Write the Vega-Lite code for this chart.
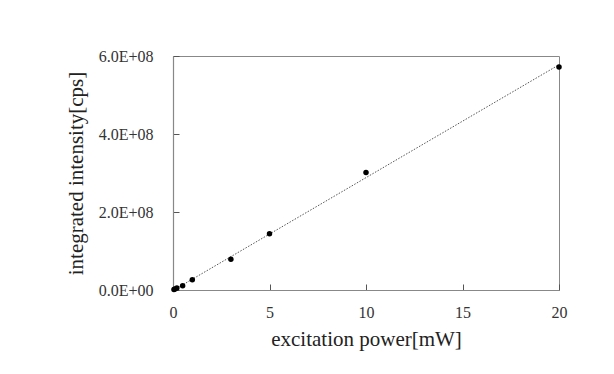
{
  "$schema": "https://vega.github.io/schema/vega-lite/v6.json",
  "width": 386,
  "height": 234,
  "autosize": {"type": "none"},
  "padding": {"left": 173, "top": 56, "right": 55, "bottom": 84},
  "background": "white",
  "config": {
    "view": {"stroke": "#888888", "strokeWidth": 1},
    "axis": {
      "labelFont": "Liberation Serif",
      "titleFont": "Liberation Serif",
      "labelFontSize": 16,
      "titleFontSize": 21,
      "titleFontWeight": "normal",
      "labelColor": "#333333",
      "titleColor": "#222222",
      "domainColor": "#888888",
      "domainWidth": 1.2,
      "tickColor": "#555555",
      "tickWidth": 1,
      "tickSize": -6,
      "grid": false
    }
  },
  "data": {
    "values": [
      {"power": 0.05, "intensity": 1000000},
      {"power": 0.1, "intensity": 2500000},
      {"power": 0.2, "intensity": 5000000},
      {"power": 0.5, "intensity": 11000000},
      {"power": 1, "intensity": 26000000},
      {"power": 3, "intensity": 79000000},
      {"power": 5, "intensity": 144000000},
      {"power": 10, "intensity": 301000000},
      {"power": 20, "intensity": 572000000}
    ]
  },
  "layer": [
    {
      "transform": [
        {"regression": "intensity", "on": "power", "method": "linear", "extent": [0, 20]}
      ],
      "mark": {"type": "line", "color": "#555555", "strokeWidth": 1, "strokeDash": [1.5, 1.5], "clip": true},
      "encoding": {
        "x": {"field": "power", "type": "quantitative"},
        "y": {"field": "intensity", "type": "quantitative"}
      }
    },
    {
      "mark": {"type": "point", "filled": true, "color": "#000000", "size": 30, "opacity": 1},
      "encoding": {
        "x": {
          "field": "power",
          "type": "quantitative",
          "scale": {"domain": [0, 20], "nice": false},
          "axis": {
            "title": "excitation power[mW]",
            "values": [0, 5, 10, 15, 20],
            "labelExpr": "format(datum.value, 'd')",
            "labelPadding": 20,
            "titlePadding": 8,
            "labelFlush": false,
            "labelOverlap": false
          }
        },
        "y": {
          "field": "intensity",
          "type": "quantitative",
          "scale": {"domain": [0, 600000000], "nice": false},
          "axis": {
            "title": "integrated intensity[cps]",
            "values": [0, 200000000, 400000000, 600000000],
            "labelExpr": "datum.value == 0 ? '0.0E+00' : datum.value == 200000000 ? '2.0E+08' : datum.value == 400000000 ? '4.0E+08' : '6.0E+08'",
            "labelPadding": 26,
            "titlePadding": 12,
            "labelFlush": false,
            "labelOverlap": false
          }
        }
      }
    }
  ]
}
